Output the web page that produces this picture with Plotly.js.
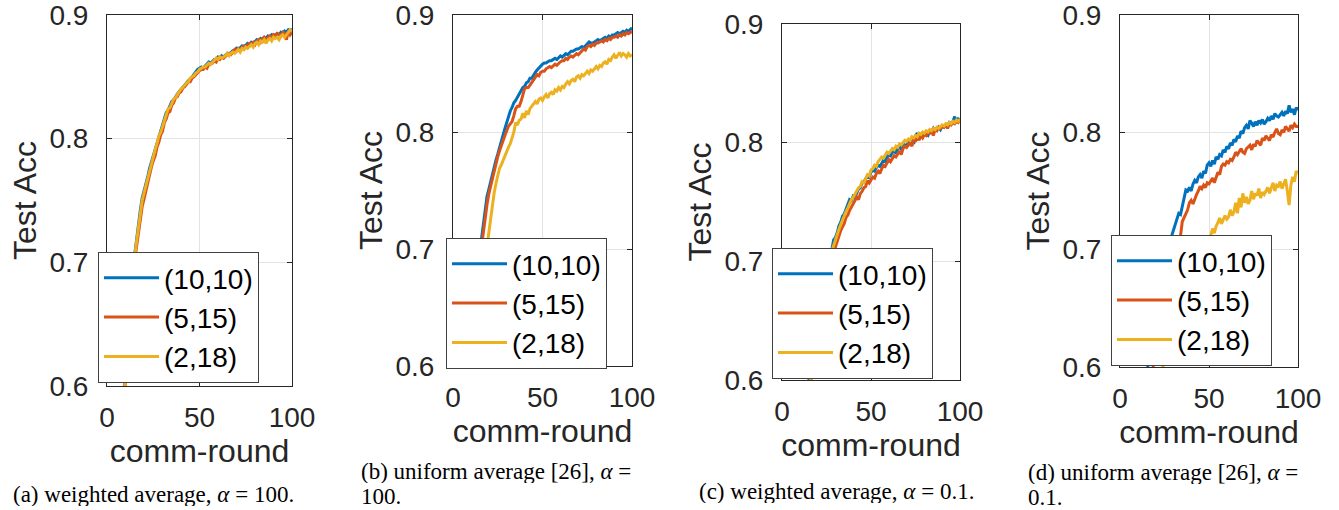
<!DOCTYPE html>
<html>
<head>
<meta charset="utf-8">
<script src="https://cdn.plot.ly/plotly-3.0.1.min.js"></script>
<style>
  html, body { margin: 0; padding: 0; background: #fff; }
  #chart { width: 1339px; height: 510px; }
</style>
</head>
<body>
<div id="chart"></div>
<script>
// ---------------- data ----------------
const rounds = Array.from({length: 100}, (_, i) => i + 1);
const seriesNames = ['(10,10)', '(5,15)', '(2,18)'];
const xTicks = [0, 50, 100];
const yTicks = [0.6, 0.7, 0.8, 0.9];
const yTickText = ['0.6', '0.7', '0.8', '0.9'];
const captionLines = [
  ['(a) weighted average, <i>α</i> = 100.'],
  ['(b) uniform average [26], <i>α</i> =', '100.'],
  ['(c) weighted average, <i>α</i> = 0.1.'],
  ['(d) uniform average [26], <i>α</i> =', '0.1.']
];

// (a) weighted average, alpha = 100
const a_10_10 = [0.12,0.22,0.31,0.38,0.44,0.49,0.53,0.565,0.59,0.615,
 0.64,0.662,0.68,0.695,0.708,0.72,0.731,0.742,0.752,0.757,
 0.763,0.769,0.776,0.781,0.786,0.792,0.797,0.801,0.806,0.811,
 0.816,0.821,0.823,0.826,0.83,0.831,0.834,0.836,0.838,0.840,
 0.842,0.843,0.846,0.847,0.848,0.850,0.852,0.853,0.856,0.857,
 0.858,0.857,0.859,0.860,0.862,0.861,0.863,0.864,0.864,0.866,
 0.865,0.867,0.866,0.868,0.869,0.868,0.870,0.871,0.871,0.873,
 0.872,0.874,0.875,0.874,0.876,0.877,0.876,0.878,0.877,0.879,
 0.880,0.879,0.881,0.880,0.882,0.881,0.883,0.882,0.884,0.883,
 0.884,0.885,0.884,0.886,0.885,0.887,0.886,0.888,0.887,0.889];
const a_5_15 = [0.1,0.2,0.29,0.36,0.42,0.47,0.515,0.55,0.58,0.605,
 0.632,0.655,0.674,0.69,0.702,0.713,0.724,0.735,0.745,0.751,
 0.758,0.764,0.772,0.777,0.782,0.786,0.793,0.797,0.803,0.806,
 0.813,0.816,0.821,0.822,0.827,0.829,0.833,0.834,0.837,0.838,
 0.841,0.842,0.844,0.846,0.846,0.849,0.850,0.852,0.853,0.855,
 0.856,0.856,0.858,0.857,0.860,0.861,0.861,0.863,0.862,0.865,
 0.864,0.866,0.865,0.867,0.868,0.869,0.868,0.870,0.872,0.871,
 0.873,0.872,0.874,0.875,0.874,0.876,0.877,0.877,0.878,0.876,
 0.879,0.880,0.878,0.881,0.882,0.880,0.882,0.883,0.881,0.884,
 0.883,0.885,0.884,0.883,0.886,0.885,0.880,0.887,0.884,0.886];
const a_2_18 = [0.11,0.21,0.3,0.37,0.43,0.48,0.52,0.557,0.585,0.61,
 0.637,0.659,0.677,0.693,0.705,0.717,0.729,0.74,0.75,0.756,
 0.762,0.768,0.775,0.78,0.786,0.791,0.796,0.802,0.805,0.81,
 0.815,0.819,0.824,0.825,0.829,0.832,0.833,0.836,0.838,0.84,
 0.842,0.844,0.845,0.846,0.849,0.85,0.851,0.853,0.854,0.856,
 0.857,0.858,0.858,0.860,0.861,0.860,0.862,0.863,0.865,0.864,
 0.866,0.865,0.866,0.867,0.869,0.867,0.869,0.870,0.869,0.871,
 0.872,0.870,0.873,0.872,0.874,0.873,0.875,0.876,0.874,0.877,
 0.878,0.876,0.879,0.878,0.880,0.877,0.880,0.881,0.879,0.882,
 0.881,0.882,0.880,0.883,0.884,0.882,0.884,0.886,0.888,0.887];

// (b) uniform average, alpha = 100
const b_10_10 = [0.1,0.2,0.29,0.37,0.44,0.5,0.545,0.575,0.598,0.618,
 0.637,0.655,0.671,0.686,0.697,0.708,0.72,0.733,0.745,0.751,
 0.758,0.765,0.771,0.776,0.781,0.787,0.792,0.797,0.803,0.808,
 0.814,0.818,0.821,0.825,0.827,0.830,0.833,0.835,0.838,0.839,
 0.842,0.843,0.846,0.846,0.849,0.851,0.853,0.855,0.856,0.858,
 0.859,0.859,0.860,0.861,0.861,0.862,0.863,0.862,0.864,0.865,
 0.864,0.866,0.867,0.866,0.868,0.869,0.869,0.870,0.871,0.871,
 0.872,0.873,0.872,0.874,0.875,0.877,0.876,0.876,0.877,0.878,
 0.879,0.878,0.879,0.880,0.881,0.880,0.882,0.881,0.883,0.883,
 0.884,0.885,0.884,0.885,0.886,0.885,0.887,0.886,0.888,0.889];
const b_5_15 = [0.08,0.17,0.26,0.34,0.41,0.47,0.52,0.555,0.578,0.594,
 0.607,0.63,0.652,0.672,0.69,0.703,0.716,0.728,0.738,0.747,
 0.754,0.761,0.768,0.774,0.779,0.784,0.789,0.793,0.797,0.801,
 0.805,0.807,0.809,0.814,0.82,0.822,0.822,0.826,0.831,0.837,
 0.838,0.838,0.840,0.842,0.844,0.847,0.849,0.848,0.851,0.852,
 0.852,0.854,0.855,0.856,0.855,0.857,0.858,0.857,0.859,0.860,
 0.861,0.861,0.863,0.862,0.864,0.865,0.864,0.866,0.867,0.866,
 0.868,0.869,0.871,0.870,0.873,0.874,0.873,0.875,0.874,0.876,
 0.876,0.877,0.878,0.877,0.879,0.878,0.880,0.879,0.881,0.881,
 0.882,0.881,0.883,0.882,0.884,0.883,0.885,0.884,0.885,0.886];
const b_2_18 = [0.06,0.14,0.22,0.3,0.37,0.43,0.48,0.52,0.55,0.57,
 0.585,0.595,0.607,0.63,0.655,0.668,0.68,0.688,0.7,0.712,
 0.726,0.737,0.748,0.756,0.762,0.769,0.772,0.776,0.78,0.784,
 0.787,0.79,0.795,0.8,0.808,0.806,0.81,0.811,0.816,0.812,
 0.818,0.815,0.82,0.822,0.823,0.826,0.824,0.828,0.829,0.827,
 0.830,0.832,0.829,0.833,0.834,0.832,0.836,0.835,0.838,0.836,
 0.839,0.838,0.841,0.843,0.841,0.844,0.845,0.843,0.847,0.848,
 0.846,0.849,0.848,0.850,0.852,0.850,0.853,0.852,0.854,0.856,
 0.854,0.857,0.856,0.859,0.860,0.858,0.862,0.861,0.864,0.866,
 0.863,0.866,0.868,0.865,0.867,0.866,0.864,0.867,0.865,0.866];

// (c) weighted average, alpha = 0.1
const c_10_10 = [0.1,0.15,0.2,0.25,0.3,0.35,0.39,0.43,0.46,0.49,
 0.515,0.54,0.56,0.58,0.598,0.614,0.628,0.641,0.653,0.664,
 0.672,0.68,0.687,0.692,0.697,0.701,0.706,0.71,0.718,0.72,
 0.724,0.73,0.733,0.738,0.74,0.744,0.747,0.752,0.751,0.755,
 0.754,0.758,0.761,0.762,0.766,0.767,0.77,0.772,0.771,0.775,
 0.777,0.776,0.779,0.781,0.78,0.783,0.785,0.784,0.788,0.79,
 0.789,0.792,0.793,0.791,0.795,0.797,0.794,0.799,0.798,0.797,
 0.802,0.8,0.804,0.799,0.806,0.808,0.803,0.806,0.805,0.808,
 0.807,0.806,0.81,0.809,0.812,0.81,0.811,0.813,0.811,0.814,
 0.813,0.815,0.814,0.817,0.816,0.818,0.822,0.817,0.82,0.819];
const c_5_15 = [0.08,0.13,0.18,0.23,0.28,0.32,0.36,0.4,0.43,0.46,
 0.49,0.515,0.538,0.559,0.578,0.596,0.61,0.625,0.638,0.65,
 0.66,0.669,0.677,0.684,0.69,0.695,0.699,0.704,0.708,0.712,
 0.717,0.72,0.726,0.729,0.732,0.737,0.739,0.743,0.746,0.749,
 0.751,0.754,0.752,0.757,0.759,0.762,0.763,0.768,0.766,0.769,
 0.771,0.77,0.774,0.776,0.774,0.778,0.781,0.78,0.783,0.786,
 0.784,0.787,0.789,0.788,0.791,0.793,0.79,0.795,0.797,0.796,
 0.798,0.8,0.797,0.803,0.801,0.805,0.802,0.806,0.804,0.807,
 0.806,0.809,0.808,0.81,0.806,0.811,0.81,0.813,0.812,0.814,
 0.813,0.815,0.812,0.816,0.815,0.817,0.816,0.818,0.817,0.819];
const c_2_18 = [0.09,0.14,0.19,0.24,0.29,0.33,0.37,0.41,0.44,0.47,
 0.5,0.525,0.548,0.568,0.586,0.602,0.617,0.631,0.644,0.655,
 0.665,0.674,0.682,0.689,0.695,0.7,0.704,0.709,0.714,0.718,
 0.723,0.727,0.731,0.735,0.739,0.742,0.745,0.749,0.752,0.754,
 0.757,0.759,0.762,0.763,0.767,0.766,0.77,0.773,0.772,0.777,
 0.778,0.781,0.78,0.784,0.786,0.788,0.787,0.79,0.792,0.791,
 0.793,0.795,0.794,0.797,0.796,0.799,0.798,0.8,0.802,0.801,
 0.803,0.802,0.805,0.804,0.806,0.805,0.808,0.807,0.809,0.808,
 0.81,0.809,0.811,0.81,0.812,0.811,0.813,0.812,0.814,0.815,
 0.814,0.816,0.815,0.817,0.816,0.818,0.817,0.819,0.818,0.82];

// (d) uniform average, alpha = 0.1
const d_10_10 = [0.1,0.15,0.2,0.25,0.3,0.35,0.39,0.43,0.46,0.49,
 0.515,0.538,0.558,0.576,0.592,0.607,0.621,0.633,0.644,0.654,
 0.663,0.671,0.678,0.685,0.691,0.697,0.702,0.707,0.713,0.716,
 0.722,0.726,0.731,0.73,0.738,0.745,0.751,0.75,0.753,0.75,
 0.756,0.759,0.757,0.762,0.764,0.761,0.767,0.765,0.772,0.774,
 0.771,0.776,0.773,0.779,0.777,0.781,0.78,0.785,0.783,0.788,
 0.786,0.791,0.789,0.794,0.792,0.797,0.795,0.801,0.799,0.804,
 0.806,0.803,0.81,0.808,0.805,0.809,0.806,0.81,0.808,0.811,
 0.807,0.809,0.812,0.81,0.814,0.811,0.816,0.814,0.813,0.815,
 0.817,0.814,0.818,0.816,0.823,0.817,0.82,0.815,0.821,0.819];
const d_5_15 = [0.08,0.12,0.16,0.2,0.24,0.28,0.32,0.36,0.39,0.42,
 0.45,0.475,0.5,0.522,0.543,0.562,0.578,0.593,0.606,0.618,
 0.629,0.639,0.648,0.656,0.664,0.671,0.678,0.684,0.69,0.695,
 0.699,0.703,0.707,0.712,0.724,0.727,0.73,0.734,0.74,0.742,
 0.739,0.744,0.747,0.75,0.754,0.752,0.755,0.753,0.757,0.756,
 0.758,0.761,0.757,0.762,0.766,0.764,0.771,0.773,0.772,0.775,
 0.774,0.777,0.776,0.779,0.783,0.781,0.784,0.786,0.783,0.782,
 0.786,0.788,0.789,0.785,0.79,0.788,0.793,0.791,0.789,0.795,
 0.793,0.797,0.795,0.793,0.798,0.796,0.8,0.803,0.799,0.798,
 0.802,0.8,0.805,0.803,0.801,0.806,0.804,0.807,0.805,0.805];
const d_2_18 = [0.05,0.08,0.11,0.14,0.17,0.2,0.23,0.26,0.29,0.32,
 0.35,0.38,0.41,0.435,0.46,0.485,0.505,0.525,0.543,0.558,
 0.571,0.582,0.592,0.6,0.608,0.616,0.623,0.63,0.636,0.642,
 0.648,0.653,0.658,0.663,0.667,0.671,0.675,0.679,0.682,0.685,
 0.688,0.691,0.693,0.696,0.698,0.7,0.703,0.705,0.703,0.709,
 0.712,0.718,0.714,0.72,0.723,0.727,0.722,0.725,0.729,0.726,
 0.728,0.734,0.729,0.732,0.74,0.731,0.744,0.736,0.748,0.74,
 0.745,0.739,0.742,0.75,0.743,0.748,0.746,0.752,0.744,0.749,
 0.747,0.75,0.753,0.748,0.752,0.757,0.75,0.755,0.754,0.758,
 0.752,0.756,0.76,0.75,0.738,0.755,0.762,0.758,0.767,0.765];

const panelSeries = [
  [a_10_10, a_5_15, a_2_18],
  [b_10_10, b_5_15, b_2_18],
  [c_10_10, c_5_15, c_2_18],
  [d_10_10, d_5_15, d_2_18]
];

// ---------------- styling / layout ----------------
const W = 1339, H = 510;
const colors = ['#0072BD', '#D95319', '#EDB120'];
const sans = 'Liberation Sans, Arial, Helvetica, sans-serif';
const serif = 'Liberation Serif, Times New Roman, serif';
const ink = '#262626';

// plot boxes in pixels: [left, right, top, bottom]
const boxes = [
  [107, 292, 15, 386],
  [453, 632, 15, 366],
  [782, 960, 24, 380],
  [1120, 1298, 15, 367]
];
// legend top-left corners in pixels
const legendPos = [[98, 252], [446, 238], [772, 248], [1111, 235]];
// caption line positions [left px, center y px] per line
const captionPos = [
  [[12, 494]],
  [[360, 471], [360, 496]],
  [[698, 491]],
  [[1027, 472], [1027, 497]]
];

const traces = [];
const layout = {
  width: W, height: H,
  margin: {l: 0, r: 0, t: 0, b: 0},
  paper_bgcolor: '#ffffff',
  plot_bgcolor: '#ffffff',
  showlegend: true,
  annotations: []
};

boxes.forEach((b, p) => {
  const k = p === 0 ? '' : String(p + 1);
  const xName = 'x' + k, yName = 'y' + k;
  const legName = 'legend' + k;
  panelSeries[p].forEach((vals, s) => {
    traces.push({
      type: 'scatter', mode: 'lines',
      x: rounds, y: vals,
      name: seriesNames[s],
      xaxis: xName, yaxis: yName,
      legend: legName,
      line: {color: colors[s], width: 3},
      hoverinfo: 'x+y+name'
    });
  });
  const common = {
    ticks: 'inside', ticklen: 5, tickwidth: 1, tickcolor: ink,
    showline: true, linecolor: ink, linewidth: 1, mirror: 'ticks',
    showgrid: true, gridcolor: '#e3e3e3', gridwidth: 1,
    zeroline: false, fixedrange: true,
    ticklabeloverflow: 'allow',
    tickfont: {family: sans, size: 28, color: ink}
  };
  layout['xaxis' + k] = Object.assign({}, common, {
    domain: [b[0] / W, b[1] / W],
    anchor: yName,
    range: [0, 100],
    tickmode: 'array', tickvals: xTicks,
    ticklabelstandoff: 6,
    title: {text: 'comm-round', font: {family: sans, size: 32, color: ink}, standoff: 6}
  });
  layout['yaxis' + k] = Object.assign({}, common, {
    domain: [1 - b[3] / H, 1 - b[2] / H],
    anchor: xName,
    range: [0.6, 0.9],
    tickmode: 'array', tickvals: yTicks, ticktext: yTickText,
    ticklabelstandoff: 12,
    title: {text: 'Test Acc', font: {family: sans, size: 32, color: ink}, standoff: 3}
  });
  const lp = legendPos[p];
  layout[legName] = {
    x: lp[0] / W, y: 1 - lp[1] / H,
    xanchor: 'left', yanchor: 'top',
    xref: 'paper', yref: 'paper',
    bgcolor: '#ffffff', bordercolor: '#404040', borderwidth: 1,
    font: {family: sans, size: 28, color: '#000000'},
    itemwidth: 55, tracegroupgap: 0, traceorder: 'normal'
  };
  captionLines[p].forEach((line, i) => {
    const cp = captionPos[p][i];
    layout.annotations.push({
      xref: 'paper', yref: 'paper',
      x: cp[0] / W, y: 1 - cp[1] / H,
      xanchor: 'left', yanchor: 'middle', align: 'left', valign: 'middle',
      height: 24, borderpad: 0,
      showarrow: false,
      text: line,
      font: {family: serif, size: 23, color: '#000000'}
    });
  });
});

Plotly.newPlot('chart', traces, layout, {staticPlot: true, displayModeBar: false});
</script>
</body>
</html>
